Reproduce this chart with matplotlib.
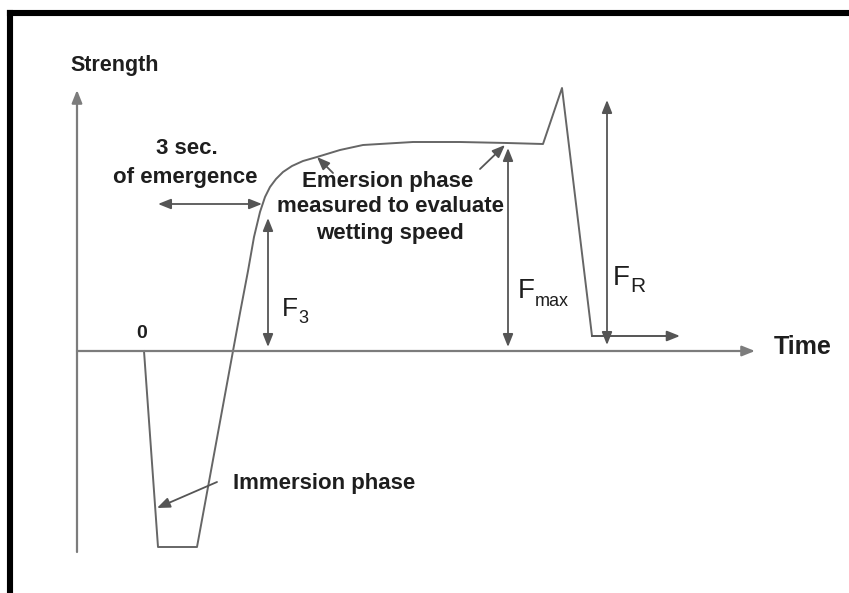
import matplotlib
matplotlib.use("Agg")
import matplotlib.pyplot as plt
from matplotlib.lines import Line2D

# ---- data (time / strength in arbitrary units) ----
curve_time = [0.0, 1.4, 5.3, 8.9, 9.6, 10.4, 11.0, 11.6, 12.1, 12.6, 13.2, 13.9,
              14.8, 15.9, 17.3, 19.6, 21.9, 26.9, 31.6, 36.3, 39.9, 41.8, 44.8]
curve_strength = [0.0, -19.6, -19.6, 0.0, 3.8, 8.0, 11.4, 13.9, 15.4, 16.4, 17.2, 17.9,
                  18.5, 19.0, 19.4, 20.1, 20.6, 20.9, 20.9, 20.8, 20.7, 26.3, 1.5]
tail_time = [44.8, 53.6]
tail_strength = [1.5, 1.5]

axis_origin = (-6.7, 0.0)
axis_x_end = 61.1
axis_y_range = (-20.1, 26.1)

# double arrows: (x0, y0, x1, y1)
emergence_span = (1.4, 14.7, 11.8, 14.7)
f3_span = (12.4, 0.4, 12.4, 13.3)
fmax_span = (36.4, 0.4, 36.4, 20.3)
fr_span = (46.3, 0.6, 46.3, 25.1)

# pointer arrows: (text_x, text_y, target_x, target_y)
immersion_ptr = (7.3, -13.1, 1.3, -15.7)
emersion_ptr1 = (18.9, 17.8, 17.3, 19.4)
emersion_ptr2 = (33.6, 18.2, 36.1, 20.6)

LINE = "#666666"
AXC = "#7c7c7c"
TXT = "#1e1e1e"

fig = plt.figure(figsize=(8.49, 5.93), dpi=100)
ax = fig.add_axes([0, 0, 1, 1])
ax.set_xlim(-14.4, 70.5)
ax.set_ylim(-24.2, 35.1)
ax.axis("off")

# frame border (top and left visible)
W, H = 849, 593
fig.add_artist(Line2D([10 / W, 10 / W], [0, 1 - 13 / H], color="black", lw=4.4,
                      transform=fig.transFigure, solid_capstyle="projecting"))
fig.add_artist(Line2D([10 / W, 1], [1 - 13 / H, 1 - 13 / H], color="black", lw=4.4,
                      transform=fig.transFigure, solid_capstyle="projecting"))

def arrow(x0, y0, x1, y1, style="-|>", color="#555555", lw=1.3):
    ax.annotate("", xy=(x1, y1), xytext=(x0, y0),
                arrowprops=dict(arrowstyle=style + ",head_length=0.55,head_width=0.22",
                                color=color, lw=lw, shrinkA=0, shrinkB=0,
                                mutation_scale=14))

# axes arrows
arrow(axis_origin[0], axis_origin[1], axis_x_end, 0.0, color=AXC, lw=1.6)
arrow(axis_origin[0], axis_y_range[0], axis_origin[0], axis_y_range[1], color=AXC, lw=1.6)

# curve
ax.plot(curve_time, curve_strength, color=LINE, lw=1.4, solid_joinstyle="round")
arrow(tail_time[0], tail_strength[0], tail_time[1], tail_strength[1], lw=1.4)

for span in (emergence_span, f3_span, fmax_span, fr_span):
    arrow(*span, style="<|-|>", lw=1.3)

for p in (immersion_ptr, emersion_ptr1, emersion_ptr2):
    arrow(*p, lw=1.3)

fam = ["Liberation Sans", "DejaVu Sans"]
bold = dict(family=fam, weight="bold", color=TXT)

ax.text(-7.4, 28.6, "Strength", fontsize=15.5, ha="left", va="center", **bold)
ax.text(4.3, 20.3, "3 sec.", fontsize=16, ha="center", va="center", **bold)
ax.text(4.1, 17.4, "of emergence", fontsize=16, ha="center", va="center", **bold)
ax.text(24.4, 17.0, "Emersion phase", fontsize=16, ha="center", va="center", **bold)
ax.text(24.7, 14.4, "measured to evaluate", fontsize=16, ha="center", va="center", **bold)
ax.text(24.6, 11.7, "wetting speed", fontsize=16, ha="center", va="center", **bold)
ax.text(8.9, -13.2, "Immersion phase", fontsize=16, ha="left", va="center", **bold)
ax.text(63.0, 0.4, "Time", fontsize=18, ha="left", va="center", **bold)
ax.text(-0.2, 1.8, "0", fontsize=14, ha="center", va="center", **bold)

reg = dict(family=fam, color=TXT)

def flabel(x, y, sub, fs, sfs, dy):
    t = ax.text(x, y, "F", fontsize=fs, ha="left", va="baseline", **reg)
    ax.annotate(sub, xy=(1, 0), xycoords=t, xytext=(0.3, dy), textcoords="offset points",
                fontsize=sfs, ha="left", va="baseline", **reg)

flabel(13.8, 3.5, "3", 19, 13, -1.5)
flabel(37.4, 5.3, "max", 20, 13, -1.5)
flabel(46.9, 6.6, "R", 20, 15, -0.5)

fig.savefig("out.png", dpi=100)
